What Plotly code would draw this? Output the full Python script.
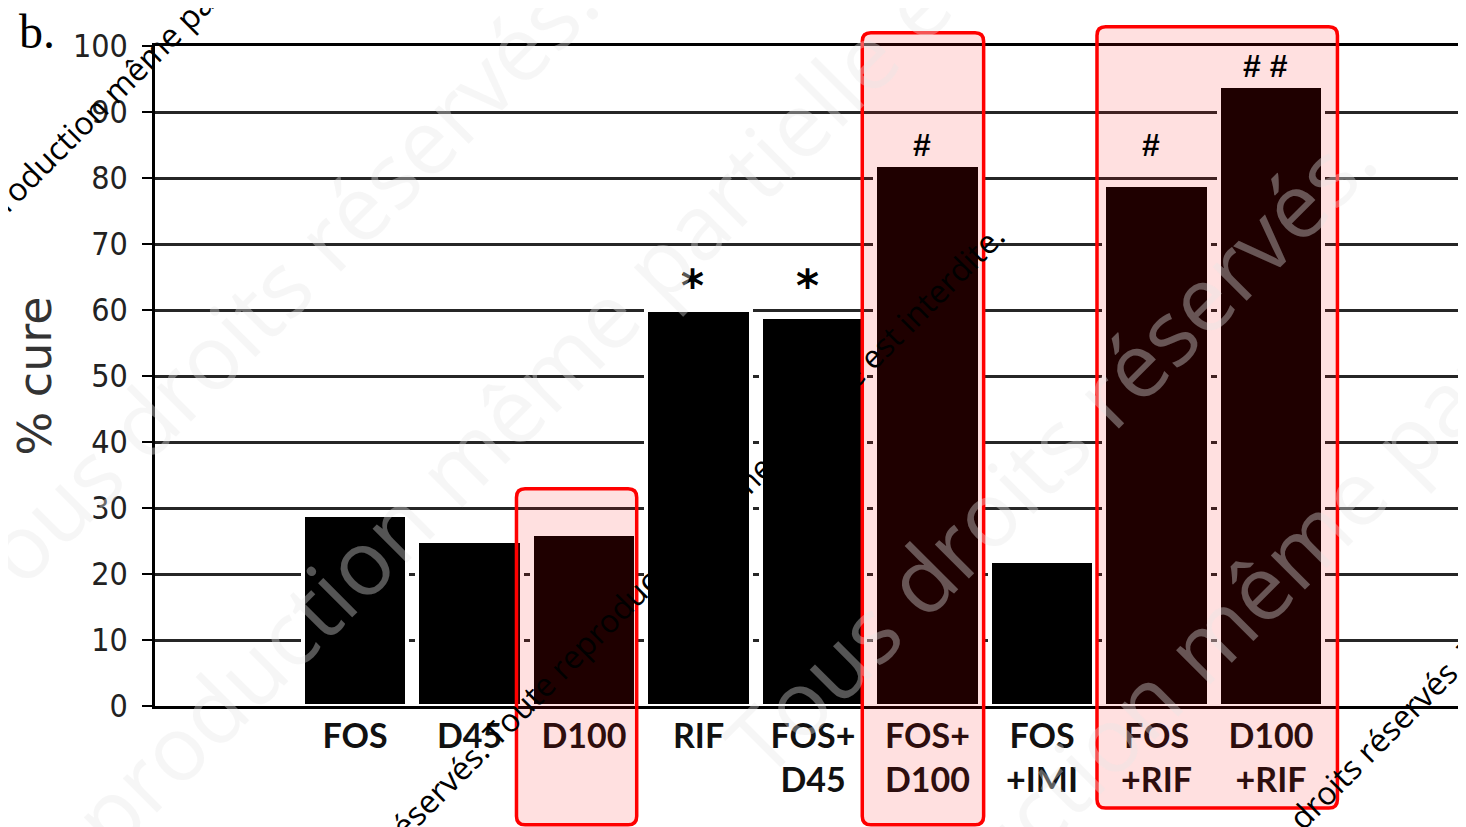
import plotly.graph_objects as go

# ---------------- data ----------------
categories = ["FOS", "D45", "D100", "RIF", "FOS+<br>D45", "FOS+<br>D100",
              "FOS<br>+IMI", "FOS<br>+RIF", "D100<br>+RIF"]
cure_pct = [29, 25, 26, 60, 59, 82, 22, 79, 94]

sig_categories = ["RIF", "FOS+<br>D45", "FOS+<br>D100", "FOS<br>+RIF", "D100<br>+RIF"]
sig_labels = ["*", "*", "#", "#", "# #"]
sig_y = [65, 65, 85, 85, 97]

y_ticks = [0, 10, 20, 30, 40, 50, 60, 70, 80, 90, 100]
y_title = "% cure"
panel_label = "b."

# highlighted groups (category names)
highlight_groups = [["D100"], ["FOS+<br>D100"], ["FOS<br>+RIF", "D100<br>+RIF"]]

watermark_big = ["Tous droits réservés.",
                 "Toute reproduction même partielle est interdite."]
watermark_small = "Tous droits réservés. Toute reproduction même partielle est interdite."

# ---------------- figure ----------------
W, H = 1466, 827
OFF = 8  # page body margin
ML, MR, MT, MB = 155 - OFF, 0, 46 - OFF, H - (706 - OFF)
PW, PH = W - ML - MR, H - MT - MB

def px2paper(px, py):
    fx, fy = px - OFF, py - OFF
    return (fx - ML) / PW, (H - MB - fy) / PH

fig = go.Figure()
fig.add_trace(go.Bar(
    x=categories, y=cure_pct,
    width=0.915,
    marker=dict(color="#000000", line=dict(color="#ffffff", width=4)),
    hoverinfo="x+y",
))

# highlight boxes (rounded, translucent pink, red outline)
box_pads = [(0.59, 0.46, -0.180, 0.329), (0.57, 0.49, -0.180, 1.020), (0.52, 0.58, -0.1545, 1.029)]
rx, ry = 0.075, 0.013
for grp, (pl, pr, yb, yt) in zip(highlight_groups, box_pads):
    idx = [categories.index(c) for c in grp]
    x0, x1 = min(idx) - pl, max(idx) + pr
    path = (f"M {x0+rx},{yb} L {x1-rx},{yb} Q {x1},{yb} {x1},{yb+ry} "
            f"L {x1},{yt-ry} Q {x1},{yt} {x1-rx},{yt} L {x0+rx},{yt} "
            f"Q {x0},{yt} {x0},{yt-ry} L {x0},{yb+ry} Q {x0},{yb} {x0+rx},{yb} Z")
    fig.add_shape(type="path", path=path, xref="x", yref="paper",
                  line=dict(color="#ff0000", width=3.5),
                  fillcolor="rgba(255,0,0,0.12)", layer="above")

# significance markers
for c, lab, yv in zip(sig_categories, sig_labels, sig_y):
    star = lab == "*"
    fig.add_annotation(x=c, y=yv, xref="x", yref="y", text=lab, showarrow=False,
                       font=dict(family="DejaVu Sans" if star else "Liberation Sans",
                                 size=44 if star else 32, color="#000000", weight="bold"),
                       xanchor="center", yanchor="middle", yshift=-8 if star else 0,
                       xshift=-6)

# watermark (large, faint)
big_pos = [((271, 292), 0), ((555, 365), 1), ((1049, 449), 0), ((1303, 542), 1)]
for (pxy, k) in big_pos:
    xp, yp = px2paper(*pxy)
    fig.add_annotation(x=xp, y=yp, xref="paper", yref="paper", text=watermark_big[k],
                       showarrow=False, textangle=-45, xanchor="center", yanchor="middle",
                       font=dict(family="Open Sans", size=90, color="rgba(230,230,230,0.37)"))

# watermark (small, black)
for pxy in [(39, 166), (630, 597), (1605, 513)]:
    xp, yp = px2paper(*pxy)
    fig.add_annotation(x=xp, y=yp, xref="paper", yref="paper", text=watermark_small,
                       showarrow=False, textangle=-45, xanchor="center", yanchor="middle",
                       font=dict(family="Open Sans", size=32, color="#000000"))

# panel label
bx, by = px2paper(37, 32)
fig.add_annotation(x=bx, y=by, xref="paper", yref="paper", text=panel_label,
                   showarrow=False, xanchor="center", yanchor="middle",
                   font=dict(family="Liberation Serif", size=48, color="#000000"))

x_left = -1.747
x_right = x_left + PW / 114.5

fig.update_layout(
    width=W, height=H,
    margin=dict(l=ML, r=MR, t=MT, b=MB, pad=0),
    paper_bgcolor="white", plot_bgcolor="white",
    showlegend=False, bargap=0,
    xaxis=dict(
        type="category", range=[x_left, x_right],
        showgrid=False, zeroline=False,
        showline=True, linecolor="#000000", linewidth=3, mirror=True,
        ticks="", ticklabelstandoff=-2,
        tickfont=dict(family="Lato", size=34, color="#111111", weight="bold"),
    ),
    yaxis=dict(
        range=[0, 100], tickvals=y_ticks, ticktext=[str(v) for v in y_ticks],
        showgrid=True, gridcolor="#262626", gridwidth=2.5,
        zeroline=False, showline=True, linecolor="#000000", linewidth=2.5,
        ticks="outside", ticklen=10, tickwidth=2, tickcolor="#000000",
        ticklabelstandoff=8,
        tickfont=dict(family="DejaVu Sans Condensed, DejaVu Sans", size=32, color="#222222"),
        title=dict(text=y_title, standoff=18,
                   font=dict(family="DejaVu Sans", size=46, color="#333333")),
    ),
)

fig.write_html("out.html")
